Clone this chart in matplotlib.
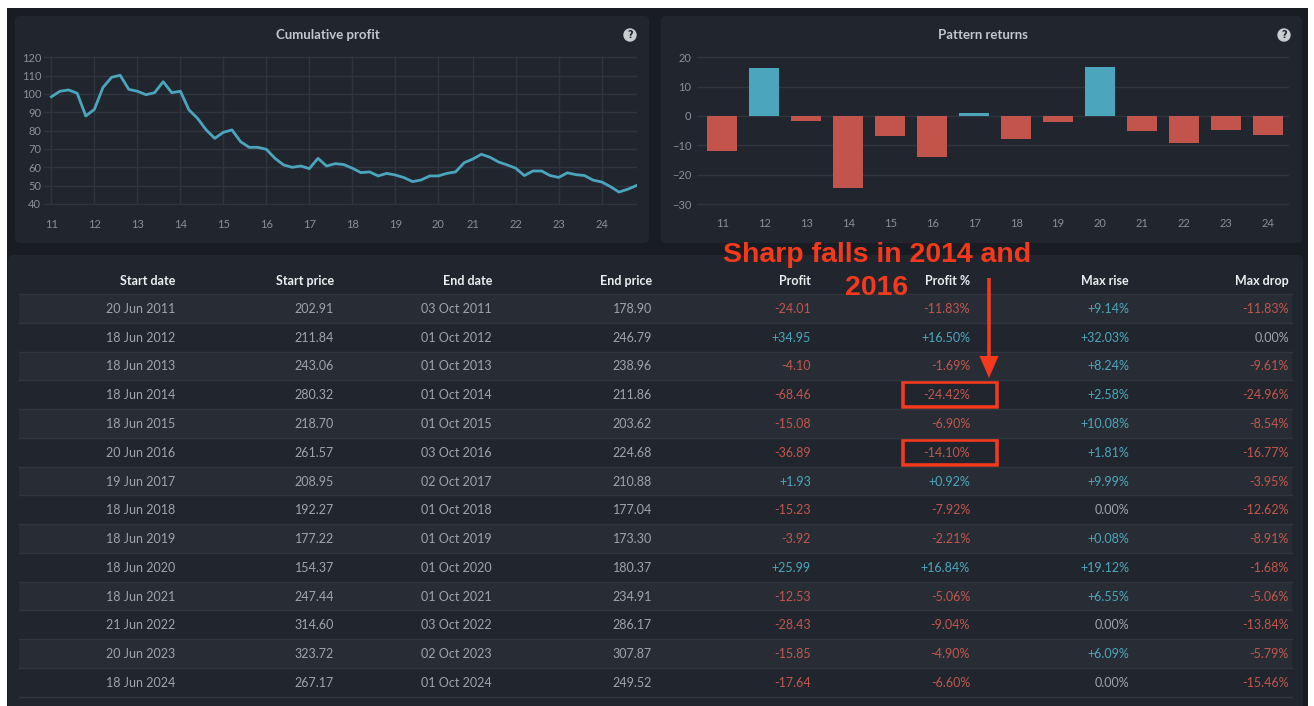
import matplotlib
matplotlib.use('Agg')
import matplotlib.pyplot as plt
from matplotlib.patches import FancyBboxPatch, Rectangle, Circle, Polygon
from matplotlib import font_manager

# ---------------- data ----------------
year_labels = ['11', '12', '13', '14', '15', '16', '17', '18', '19', '20', '21', '22', '23', '24']
cum_tick_idx = [0, 5, 10, 15, 20, 25, 30, 35, 40, 45, 49, 54, 59, 64]
cum_profit = [98.5, 101.5, 102.2, 100.4, 88.0, 91.6, 103.6, 109.1, 110.2, 102.5,
              101.5, 99.6, 100.7, 106.7, 100.7, 101.5, 91.3, 86.7, 80.4, 75.8,
              79.1, 80.4, 74.0, 70.9, 70.9, 69.8, 64.9, 61.3, 60.0, 60.7,
              59.3, 64.9, 60.7, 62.0, 61.5, 59.5, 57.1, 57.5, 55.3, 56.7,
              55.8, 54.4, 52.2, 53.1, 55.3, 55.3, 56.7, 57.5, 62.5, 64.5,
              67.1, 65.5, 62.9, 61.3, 59.5, 55.5, 58.0, 58.0, 55.5, 54.5,
              57.0, 56.0, 55.5, 53.0, 52.0, 49.5, 46.5, 48.0, 50.0]

start_dates = ['20 Jun 2011', '18 Jun 2012', '18 Jun 2013', '18 Jun 2014', '18 Jun 2015',
               '20 Jun 2016', '19 Jun 2017', '18 Jun 2018', '18 Jun 2019', '18 Jun 2020',
               '18 Jun 2021', '21 Jun 2022', '20 Jun 2023', '18 Jun 2024']
start_prices = [202.91, 211.84, 243.06, 280.32, 218.70, 261.57, 208.95, 192.27, 177.22,
                154.37, 247.44, 314.60, 323.72, 267.17]
end_dates = ['03 Oct 2011', '01 Oct 2012', '01 Oct 2013', '01 Oct 2014', '01 Oct 2015',
             '03 Oct 2016', '02 Oct 2017', '01 Oct 2018', '01 Oct 2019', '01 Oct 2020',
             '01 Oct 2021', '03 Oct 2022', '02 Oct 2023', '01 Oct 2024']
end_prices = [178.90, 246.79, 238.96, 211.86, 203.62, 224.68, 210.88, 177.04, 173.30,
              180.37, 234.91, 286.17, 307.87, 249.52]
profit = [-24.01, 34.95, -4.10, -68.46, -15.08, -36.89, 1.93, -15.23, -3.92, 25.99,
          -12.53, -28.43, -15.85, -17.64]
profit_pct = [-11.83, 16.50, -1.69, -24.42, -6.90, -14.10, 0.92, -7.92, -2.21, 16.84,
              -5.06, -9.04, -4.90, -6.60]
max_rise = [9.14, 32.03, 8.24, 2.58, 10.08, 1.81, 9.99, 0.00, 0.08, 19.12, 6.55, 0.00,
            6.09, 0.00]
max_drop = [-11.83, 0.00, -9.61, -24.96, -8.54, -16.77, -3.95, -12.62, -8.91, -1.68,
            -5.06, -13.84, -5.79, -15.46]
headers = ['Start date', 'Start price', 'End date', 'End price', 'Profit', 'Profit %',
           'Max rise', 'Max drop']
annotation_lines = ['Sharp falls in 2014 and', '2016']
highlight_rows = [3, 5]

# ---------------- style ----------------
names = {f.name for f in font_manager.fontManager.ttflist}
FONT = 'Liberation Sans Narrow' if 'Liberation Sans Narrow' in names else 'Lato'
plt.rcParams['font.family'] = [FONT, 'DejaVu Sans']

OUTER = '#191d23'
PANEL = '#21262e'
STRIPE = '#282d35'
SEP = '#30363f'
GRID = '#2f353e'
TICK = '#8a9098'
TEAL = '#4aa5bd'
RED = '#c2544b'
REDTXT = '#c0574e'
TEALTXT = '#4ea6bb'
GREYTXT = '#a0a4a9'
HEAD = '#eceef0'
ANNOT = '#f5391c'

W, H = 1314, 706
fig = plt.figure(figsize=(W / 100, H / 100), dpi=100, facecolor='white')
ov = fig.add_axes([0, 0, 1, 1], zorder=0)
ov.set_xlim(0, W)
ov.set_ylim(H, 0)
ov.axis('off')


def frac(x0, y0, x1, y1):
    return [x0 / W, 1 - y1 / H, (x1 - x0) / W, (y1 - y0) / H]


# background
ov.add_patch(Rectangle((7, 8), 1301, 700, color=OUTER, lw=0))
for (x0, y0, w, h) in [(15, 16, 634, 227), (661, 16, 641, 227)]:
    ov.add_patch(FancyBboxPatch((x0, y0), w, h, boxstyle='round,pad=0,rounding_size=5',
                                fc=PANEL, ec='none'))
ov.add_patch(FancyBboxPatch((8, 255), 1295, 460, boxstyle='round,pad=0,rounding_size=5',
                            fc=PANEL, ec='none'))

# titles + help icons
for cx, title, hx in [(328, 'Cumulative profit', 630), (983, 'Pattern returns', 1284)]:
    ov.text(cx, 35, title, ha='center', va='center', color='#c3c7cc', fontsize=9.5,
            fontweight='bold')
    ov.add_patch(Circle((hx, 35), 6, color='#c9cdd2'))
    ov.text(hx, 35.5, '?', ha='center', va='center', color=PANEL, fontsize=7,
            fontweight='bold', family='DejaVu Sans')

# ---------------- cumulative profit ----------------
ax1 = fig.add_axes(frac(44, 56.4, 637, 204.9), zorder=1)
ax1.set_facecolor('none')
ax1.plot(range(len(cum_profit)), cum_profit, color=TEAL, lw=2, solid_joinstyle='round')
ax1.set_xlim(-0.86, 68.1)
ax1.set_ylim(39.5, 120.5)
ax1.set_yticks(range(40, 121, 10))
ax1.set_xticks(cum_tick_idx)
ax1.set_xticklabels(year_labels)
ax1.grid(True, color=GRID, lw=1)
ax1.set_axisbelow(True)
for s in ax1.spines.values():
    s.set_visible(False)
ax1.tick_params(length=0, colors=TICK, labelsize=8)
ax1.tick_params(axis='x', pad=10)
ax1.tick_params(axis='y', pad=2)

# ---------------- pattern returns ----------------
ax2 = fig.add_axes(frac(697, 55.8, 1289, 205.5), zorder=1)
ax2.set_facecolor('none')
xs = list(range(len(profit_pct)))
ax2.bar(xs, profit_pct, width=0.72,
        color=[TEAL if v > 0 else RED for v in profit_pct], lw=0)
ax2.set_xlim(-0.6, 13.5)
ax2.set_ylim(-30.5, 20.5)
ax2.set_yticks(range(-30, 21, 10))
ax2.set_xticks(xs)
ax2.set_xticklabels(year_labels)
ax2.grid(True, axis='y', color=GRID, lw=1)
ax2.set_axisbelow(True)
for s in ax2.spines.values():
    s.set_visible(False)
ax2.tick_params(length=0, colors=TICK, labelsize=8)
ax2.tick_params(axis='x', pad=9)
ax2.tick_params(axis='y', pad=4)

# ---------------- table ----------------
col_right = [175, 334, 492, 652, 811, 970, 1129, 1289]
header_y = 281
row_top = 294
row_h = 28.77
for j, hd in enumerate(headers):
    ov.text(col_right[j], header_y, hd, ha='right', va='center', color=HEAD,
            fontsize=9, fontweight='bold')


def signed(v, pct):
    suf = '%' if pct else ''
    if v > 0:
        return '+%.2f%s' % (v, suf), TEALTXT
    if v < 0:
        return '%.2f%s' % (v, suf), REDTXT
    return '0.00%s' % suf, GREYTXT


n = len(start_dates)
for k in range(n):
    top = row_top + k * row_h
    if k % 2 == 0:
        ov.add_patch(Rectangle((19, top), 1273, row_h, color=STRIPE, lw=0))
    ov.plot([19, 1292], [top, top], color=SEP, lw=1)
    cy = top + row_h / 2 + 0.5
    cells = [(start_dates[k], GREYTXT), ('%.2f' % start_prices[k], GREYTXT),
             (end_dates[k], GREYTXT), ('%.2f' % end_prices[k], GREYTXT),
             signed(profit[k], False), signed(profit_pct[k], True),
             signed(max_rise[k], True), signed(max_drop[k], True)]
    for j, (txt, c) in enumerate(cells):
        ov.text(col_right[j], cy, txt, ha='right', va='center', color=c, fontsize=9)
ov.plot([19, 1292], [row_top + n * row_h, row_top + n * row_h], color=SEP, lw=1)

# ---------------- annotation ----------------
for k in highlight_rows:
    top = row_top + k * row_h
    ov.add_patch(Rectangle((903, top + 2), 94, row_h - 4, fill=False, ec=ANNOT, lw=2.6))
for (ty, line) in zip([255, 288], annotation_lines):
    ov.text(877, ty, line, ha='center', va='center', color=ANNOT,
            fontsize=20.5, fontweight='bold', family='Liberation Sans')
ov.plot([989, 989], [278, 358], color=ANNOT, lw=2.6, solid_capstyle='butt')
ov.add_patch(Polygon([[979.5, 356], [998.5, 356], [989, 378]], closed=True, color=ANNOT, lw=0))

fig.savefig('out.png', dpi=100, facecolor='white')
